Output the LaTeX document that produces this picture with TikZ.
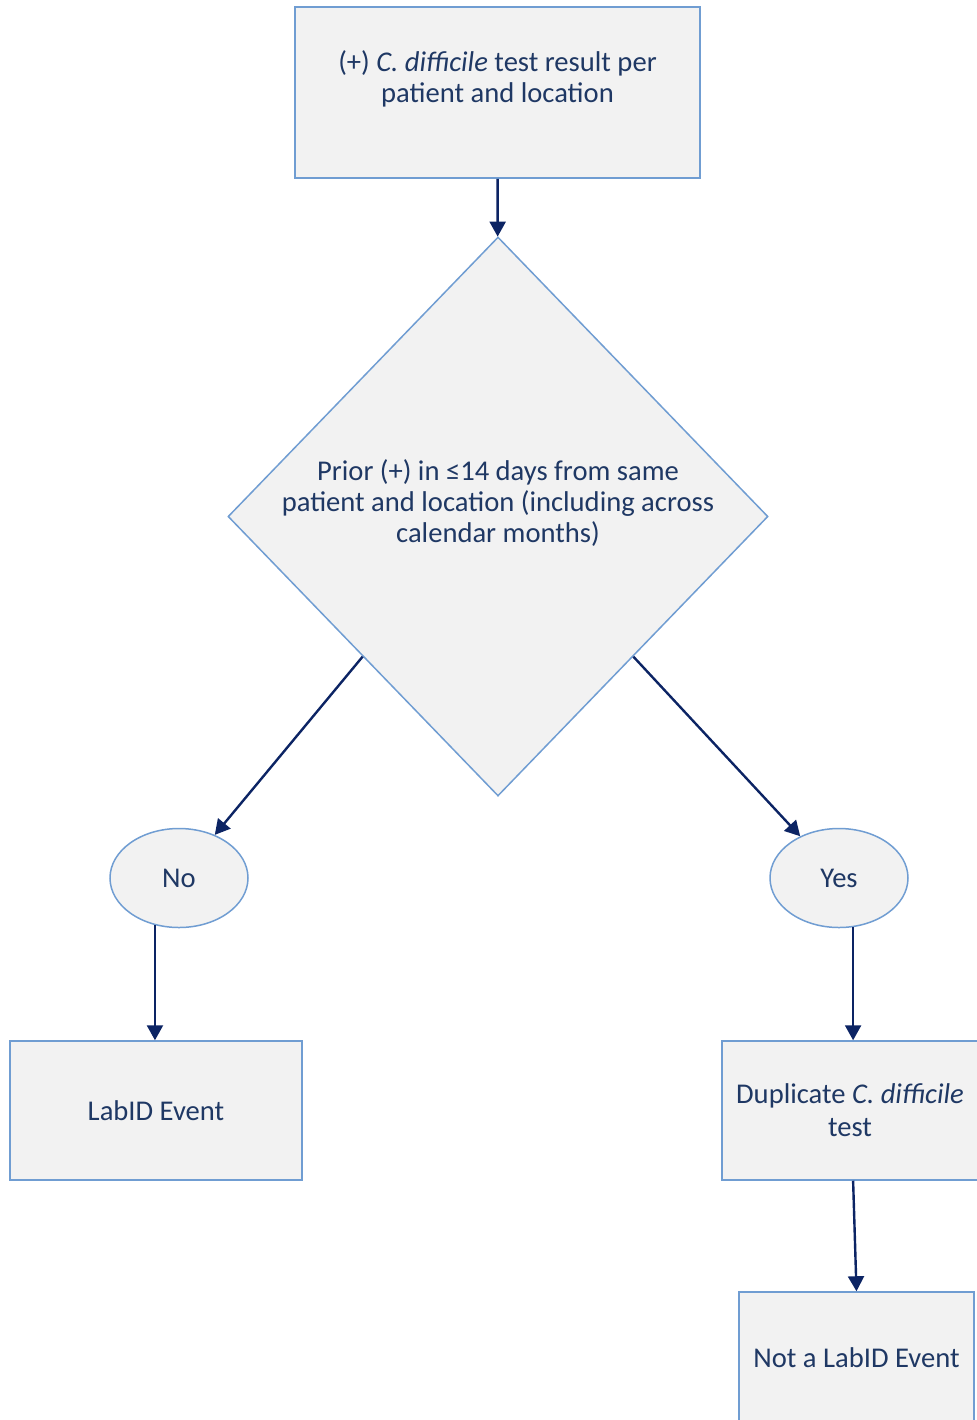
\documentclass[tikz,border=0pt]{standalone}
\usepackage{fontspec}
\setmainfont{Carlito}
\usepackage{tikz}
\usetikzlibrary{shapes.geometric,arrows.meta,calc}
\definecolor{navy}{RGB}{31,56,100}
\definecolor{arrnavy}{RGB}{12,36,100}
\definecolor{rim}{RGB}{112,157,210}
\definecolor{boxfill}{RGB}{242,242,242}
\tikzset{every picture/.append style={x=0.5pt,y=-0.5pt}}
\tikzset{boxtext/.style={text=navy,align=center,inner sep=0pt,font=\fontsize{14.3}{15.5}\selectfont}}
\tikzset{box/.style={boxtext,rectangle,draw=rim,fill=boxfill,line width=0.75pt}}
\tikzset{decision/.style={box,diamond,aspect=0.966}}
\tikzset{answer/.style={box,ellipse,minimum width=69pt,minimum height=49.5pt}}
\tikzset{arr/.style={draw=arrnavy,line width=1.2pt,-{Triangle[width=8pt,length=7.5pt]}}}

\begin{document}
\begin{tikzpicture}
\useasboundingbox (0,0) rectangle (977,1420);
\clip (0,0) rectangle (977,1420);
%top part
\node (res) at (497.5,92.5)[box,minimum width=202.5pt,minimum height=85.5pt]{(+) \textit{C. difficile} test result per\\patient and location\\ \mbox{}};
\node (prior) at (498,516.5)[decision,minimum width=270pt,minimum height=279.5pt,
  label={[boxtext,yshift=6.5pt]center:Prior (+) in ≤14 days from same\\patient and location (including across\\calendar months)}]{};
%answers
\node (no) at (179,878)[answer]{No};
\node (yes) at (839,878)[answer]{Yes};
%outcomes
\node (lab) at (156,1110.5)[box,minimum width=146pt,minimum height=69.5pt]{LabID Event};
\node (dup) at (850,1110.5)[box,minimum width=128pt,minimum height=69.5pt]{Duplicate \textit{C. difficile}\\[1pt]test};
\node (nolab) at (856.5,1357.5)[box,minimum width=117.5pt,minimum height=65.5pt]{Not a LabID Event};

\draw[arr] (res)--(prior);
\draw[arr] (prior.south west)--(no);
\draw[arr] (prior.south east)--(yes);
\draw[arr] (no.243)--(no.243 |- lab.north);
\draw[arr] (yes.286)--(yes.286 |- dup.north);
\draw[arr] (yes.286 |- dup.south)--(nolab.north);
\end{tikzpicture}
\end{document}
